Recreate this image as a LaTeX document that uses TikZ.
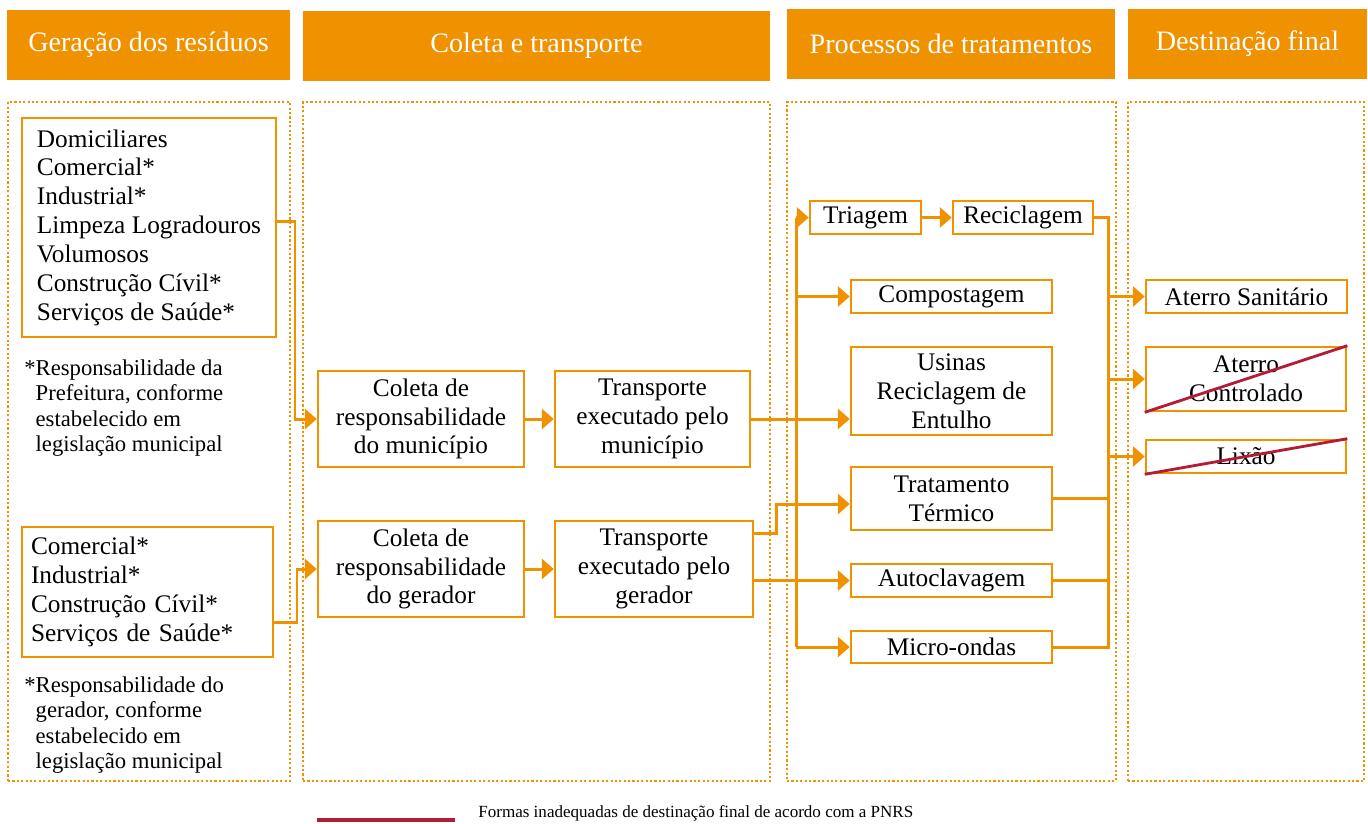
\documentclass[tikz,border=0pt]{standalone}
\usepackage{fontspec}
\setmainfont{Liberation Serif}
\usetikzlibrary{arrows.meta}

\definecolor{orng}{RGB}{240,145,0}
\definecolor{strikered}{RGB}{180,28,52}

\tikzset{
	hdr/.style={rectangle, fill=orng, text=white, inner sep=0pt, minimum height=1.4cm, font=\fontsize{16}{19}\selectfont},
	colbox/.style={rectangle, draw=orng, line width=1.25pt, dash pattern=on 1.2pt off 1.3pt, minimum height=13.58cm, inner sep=0pt},
	box/.style={rectangle, draw=orng, line width=1.5pt, fill=white, align=center, inner sep=2pt, font=\fontsize{14.4}{16.4}\selectfont},
	note/.style={anchor=west, align=left, inner sep=0pt, font=\fontsize{12.9}{14.4}\selectfont},
	wire/.style={draw=orng, line width=1.7pt},
	conn/.style={wire, -{Triangle[length=6.8pt,width=11.5pt]}},
	strike/.style={draw=strikered, line width=1.6pt},
}

\begin{document}
\begin{tikzpicture}[x=0.02cm, y=-0.02cm]
	\useasboundingbox (0,0) rectangle (1368,823);

	% headers
	\node[hdr, minimum width=5.66cm]	(h1)	at (148.5,44.5)	{Geração dos resíduos};
	\node[hdr, minimum width=9.34cm]	(h2)	at (536.5,46)	{Coleta e transporte};
	\node[hdr, minimum width=6.56cm]	(h3)	at (951,44)	{Processos de tratamentos};
	\node[hdr, minimum width=4.78cm]	(h4)	at (1247.5,44)	{Destinação final};

	% dotted columns
	\node[colbox, minimum width=5.64cm]	(c1)	at (149,441.5)	{};
	\node[colbox, minimum width=9.34cm]	(c2)	at (536.5,441.5)	{};
	\node[colbox, minimum width=6.58cm]	(c3)	at (951.5,441.5)	{};
	\node[colbox, minimum width=4.72cm]	(c4)	at (1246,441.5)	{};

	% geracao
	\node[box, align=left, minimum width=5.08cm, minimum height=4.38cm]	(gen1)	at (149,227.5)
		{Domiciliares\\Comercial*\\Industrial*\\Limpeza Logradouros\\Volumosos\\Construção Cívil*\\Serviços de Saúde*};
	\node[note]	(note1)	at (24,408)
		{*Responsabilidade da\\\hphantom{*}Prefeitura, conforme\\\hphantom{*}estabelecido em\\\hphantom{*}legislação municipal};

	\node[box, align=left, text width=4.66cm, inner xsep=0.18cm, minimum height=2.6cm]	(gen2)	at (147.5,592)
		{Comercial*\\Industrial*\\Construção Cívil*\\Serviços de Saúde*};
	\node[note]	(note2)	at (24,725)
		{*Responsabilidade do\\\hphantom{*}gerador, conforme\\\hphantom{*}estabelecido em\\\hphantom{*}legislação municipal};

	% coleta e transporte
	\node[box, minimum width=4.12cm, minimum height=1.92cm]	(col1)	at (421,419)	{Coleta de\\responsabilidade\\do município};
	\node[box, minimum width=3.9cm, minimum height=1.92cm]	(tr1)	at (652.5,419)	{Transporte\\executado pelo\\município};
	\node[box, minimum width=4.12cm, minimum height=1.92cm]	(col2)	at (421,569)	{Coleta de\\responsabilidade\\do gerador};
	\node[box, minimum width=3.96cm, minimum height=1.92cm]	(tr2)	at (654,569)	{Transporte\\executado pelo\\gerador};

	% tratamentos
	\node[box, minimum width=2.22cm, minimum height=0.66cm]	(triagem)	at (865.5,217.5)	{Triagem};
	\node[box, minimum width=2.8cm, minimum height=0.66cm]	(recic)	at (1023,217.5)	{Reciclagem};
	\node[box, minimum width=4.02cm, minimum height=0.66cm]	(compost)	at (951.5,296.5)	{Compostagem};
	\node[box, minimum width=4.02cm, minimum height=1.76cm]	(usinas)	at (951.5,391)	{Usinas\\Reciclagem de\\Entulho};
	\node[box, minimum width=4.02cm, minimum height=1.26cm]	(termico)	at (951.5,498.5)	{Tratamento\\Térmico};
	\node[box, minimum width=4.02cm, minimum height=0.66cm]	(autoclav)	at (951.5,580.5)	{Autoclavagem};
	\node[box, minimum width=4.02cm, minimum height=0.64cm]	(micro)	at (951.5,647)	{Micro-ondas};

	% destinacao
	\node[box, minimum width=4.02cm, minimum height=0.66cm]	(aterroS)	at (1246.5,296.5)	{Aterro Sanitário};
	\node[box, minimum width=4.0cm, minimum height=1.28cm]	(aterroC)	at (1246,379)	{Aterro\\Controlado};
	\node[box, minimum width=4.0cm, minimum height=0.66cm]	(lixao)	at (1246,456.5)	{Lixão};

	% junction points
	\coordinate (j1) at (295,221);
	\coordinate (j2) at (297,622);
	\coordinate (j3) at (776,533);
	\coordinate (j4) at (776,504);
	\coordinate (b1) at (796,217.5);
	\coordinate (b2) at (796,647);
	\coordinate (r1) at (1108,217.5);
	\coordinate (r2) at (1108,647);

	\draw[conn] (gen1.east |- j1) -- (j1) |- (col1.west);
	\draw[conn] (gen2.east |- j2) -- (j2) |- (col2.west);
	\draw[conn] (col1) -- (tr1);
	\draw[conn] (col2) -- (tr2);

	\draw[conn] (tr1.east) -- (tr1.east -| usinas.west);
	\draw[conn] (tr2.east |- j3) -- (j3) -- (j4) -- (j4 -| termico.west);
	\draw[conn] (tr2.east |- autoclav) -- (autoclav.west);

	\draw[wire] (b1) -- (b2);
	\draw[conn] (b1) -- (triagem.west);
	\draw[conn] (b1 |- compost) -- (compost.west);
	\draw[conn] (b2) -- (micro.west);
	\draw[conn] (triagem) -- (recic);

	\draw[wire] (recic.east) -- (r1) -- (r2) -- (micro.east);
	\draw[wire] (termico.east) -- (termico.east -| r1);
	\draw[wire] (autoclav.east) -- (autoclav.east -| r1);
	\draw[conn] (r1 |- aterroS) -- (aterroS.west);
	\draw[conn] (r1 |- aterroC) -- (aterroC.west);
	\draw[conn] (r1 |- lixao) -- (lixao.west);

	\draw[strike] (aterroC.south west) -- (aterroC.north east);
	\draw[strike] (lixao.south west) -- (lixao.north east);

	% legenda
	\node[anchor=west, inner sep=0pt, font=\fontsize{9.7}{12}\selectfont]	(legtxt)	at (478,813)	{Formas inadequadas de destinação final de acordo com a PNRS};
	\draw[strikered, line width=2.8pt] (317,820) -- (455,820);

\end{tikzpicture}
\end{document}
